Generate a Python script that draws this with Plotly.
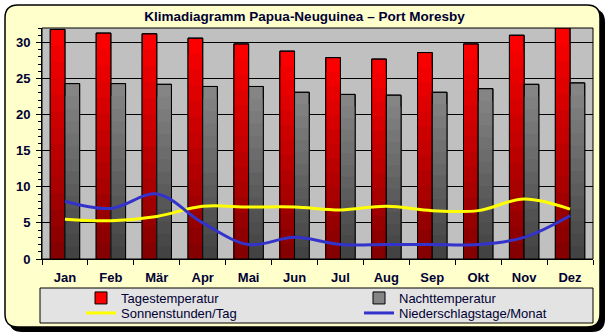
import plotly.graph_objects as go

# ---- data ----
months = ["Jan", "Feb", "Mär", "Apr", "Mai", "Jun", "Jul", "Aug", "Sep", "Okt", "Nov", "Dez"]
tages_temp = [31.8, 31.3, 31.2, 30.6, 29.8, 28.8, 27.9, 27.7, 28.6, 29.8, 31.0, 32.0]
nacht_temp = [24.3, 24.3, 24.2, 23.9, 23.9, 23.1, 22.8, 22.7, 23.1, 23.6, 24.2, 24.4]
sonnen = [5.5, 5.3, 5.9, 7.3, 7.2, 7.2, 6.8, 7.3, 6.7, 6.7, 8.3, 6.9]
regentage = [8, 7, 9, 5, 2, 3, 2, 2, 2, 2, 3, 6]
y_ticks = [0, 5, 10, 15, 20, 25, 30]

# ---- geometry (pixels) ----
W, H = 609, 336
ML, MR, MT, MB = 42, 16, 28, 77
PW, PH = W - ML - MR, H - MT - MB


def pxx(x):
    return (x - ML) / PW


def pxy(y):
    return (H - MB - y) / PH


def cx(x):
    return x / W


def cy(y):
    return 1 - y / H


def rounded_path(x0, y0, x1, y1, r):
    pts = [
        ("M", [(x0 + r, y0)]),
        ("L", [(x1 - r, y0)]),
        ("Q", [(x1, y0), (x1, y0 + r)]),
        ("L", [(x1, y1 - r)]),
        ("Q", [(x1, y1), (x1 - r, y1)]),
        ("L", [(x0 + r, y1)]),
        ("Q", [(x0, y1), (x0, y1 - r)]),
        ("L", [(x0, y0 + r)]),
        ("Q", [(x0, y0), (x0 + r, y0)]),
    ]
    s = ""
    for cmd, ps in pts:
        s += cmd + " ".join(f"{pxx(a):.5f},{pxy(b):.5f}" for a, b in ps) + " "
    return s + "Z"


TXT = "#000033"
FONT = "Liberation Sans, Arial, sans-serif"

fig = go.Figure()

N = 14
BW = 0.32


def lerp(c0, c1, t):
    return "rgb(%d,%d,%d)" % tuple(round(a + (b - a) * t) for a, b in zip(c0, c1))


def gradient_bars(vals, offset, dark, bright, name, legend):
    for k in range(N):
        frac = (N - k) / N
        t = (N - k - 0.5) / N
        fig.add_trace(go.Bar(
            x=months, y=[v * frac for v in vals], offset=offset, width=BW,
            marker=dict(color=lerp(dark, bright, t),
                        line=dict(color="black", width=1 if k == 0 else 0)),
            name=name, showlegend=(k == 0), legend=legend, hoverinfo="skip",
        ))
    fig.add_trace(go.Bar(
        x=months, y=vals, offset=offset, width=BW,
        marker=dict(color="rgba(0,0,0,0)", line=dict(color="black", width=1)),
        showlegend=False, hoverinfo="skip",
    ))


gradient_bars(tages_temp, -BW, (128, 0, 0), (255, 0, 0), "Tagestemperatur", "legend")
gradient_bars(nacht_temp, 0.0, (64, 64, 64), (136, 136, 136), "Nachttemperatur", "legend2")

fig.add_trace(go.Scatter(
    x=months, y=sonnen, mode="lines", line=dict(color="#FFFF00", width=3, shape="spline"),
    name="Sonnenstunden/Tag", legend="legend3", hoverinfo="skip",
))
fig.add_trace(go.Scatter(
    x=months, y=regentage, mode="lines", line=dict(color="#3333CC", width=3, shape="spline"),
    name="Niederschlagstage/Monat", legend="legend4", hoverinfo="skip",
))

shapes = [
    # shadow
    dict(type="path", path=rounded_path(9, 9, 605, 332, 13), xref="paper", yref="paper",
         fillcolor="black", line=dict(width=0), layer="below"),
    # frame
    dict(type="path", path=rounded_path(5, 5, 600, 327, 13), xref="paper", yref="paper",
         fillcolor="#FFFFCC", line=dict(color="black", width=1.5), layer="below"),
    # plot area
    dict(type="rect", x0=0, x1=1, y0=0, y1=1, xref="paper", yref="paper",
         fillcolor="#C0C0C0", line=dict(color="black", width=1), layer="below"),
    # legend box
    dict(type="rect", x0=pxx(40), x1=pxx(593), y0=pxy(323), y1=pxy(288), xref="paper", yref="paper",
         fillcolor="#E3E3E3", line=dict(color="black", width=1), layer="below"),
]

legend_common = dict(
    orientation="h", xanchor="left", yanchor="middle", xref="container", yref="container",
    bgcolor="rgba(0,0,0,0)", borderwidth=0,
    font=dict(family=FONT, size=13, color=TXT), itemwidth=30,
)

fig.update_layout(
    width=W, height=H,
    margin=dict(l=ML, r=MR, t=MT, b=MB, autoexpand=False),
    paper_bgcolor="white",
    plot_bgcolor="rgba(0,0,0,0)",
    barmode="overlay",
    showlegend=True,
    title=dict(text="Klimadiagramm Papua-Neuguinea – Port Moresby", x=0.5, xref="container",
               y=1 - 16 / H, yanchor="middle", yref="container",
               font=dict(family=FONT, size=13.5, color=TXT, weight="bold")),
    shapes=shapes,
    legend=dict(x=cx(81), y=cy(298), **legend_common),
    legend2=dict(x=cx(359), y=cy(298), **legend_common),
    legend3=dict(x=cx(81), y=cy(313), **legend_common),
    legend4=dict(x=cx(359), y=cy(313), **legend_common),
    xaxis=dict(
        type="category", categoryorder="array", categoryarray=months,
        tickson="boundaries", ticks="outside", ticklen=5, tickcolor="black",
        showline=True, linecolor="black", linewidth=1, showgrid=False,
        tickfont=dict(family=FONT, size=13, color=TXT, weight="bold"),
        ticklabelstandoff=6, range=[-0.5, 11.5], fixedrange=True, automargin=False,
    ),
    yaxis=dict(
        range=[0, 32], tickvals=y_ticks, ticks="outside", ticklen=5, tickcolor="black",
        showline=True, linecolor="black", linewidth=1,
        showgrid=True, gridcolor="black", gridwidth=1, zeroline=False,
        minor=dict(dtick=1, ticks="outside", ticklen=3, tickcolor="black", showgrid=False),
        tickfont=dict(family=FONT, size=13, color=TXT, weight="bold"),
        ticklabelstandoff=3, fixedrange=True, automargin=False,
    ),
)

fig.write_html("out.html")
